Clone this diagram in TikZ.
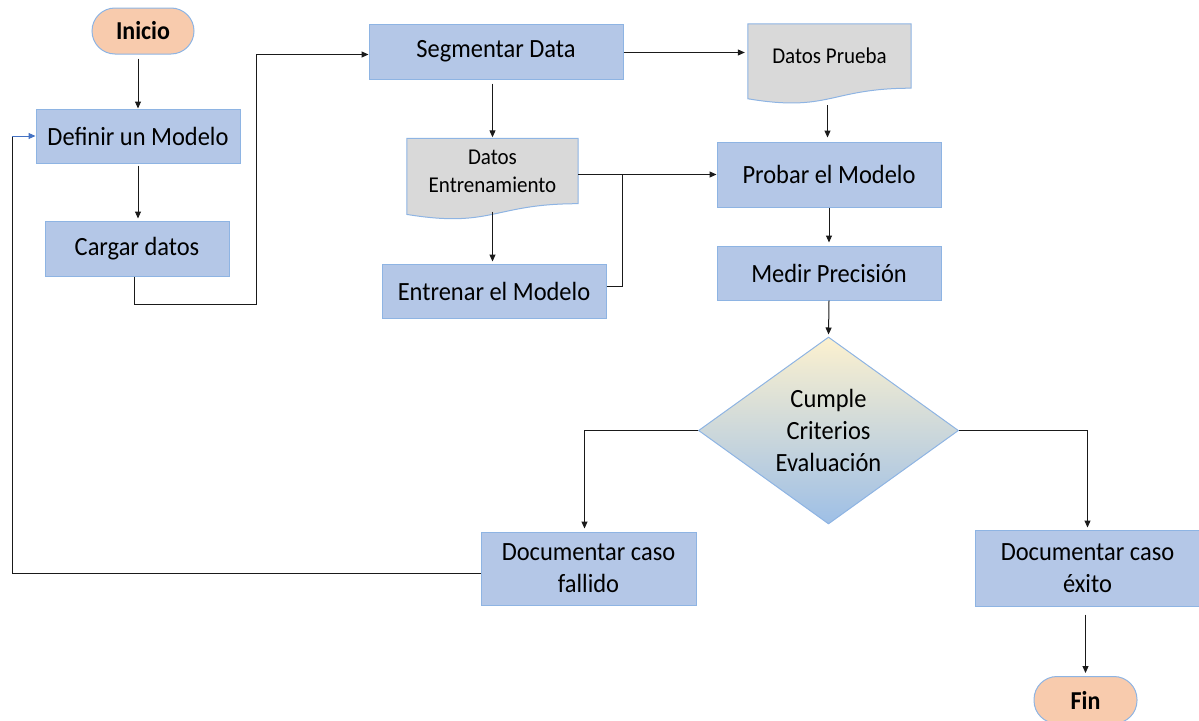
\documentclass[tikz,border=0pt]{standalone}
\usepackage{fontspec}
\setmainfont{Carlito}[FakeStretch=0.93]
\usetikzlibrary{arrows.meta,shapes.geometric,calc,backgrounds}

\definecolor{boxfill}{HTML}{B4C7E7}
\definecolor{boxline}{HTML}{8EB4E3}
\definecolor{docfill}{HTML}{D9D9D9}
\definecolor{termfill}{HTML}{F8CBAD}
\definecolor{decitop}{HTML}{FCF1CF}
\definecolor{decibot}{HTML}{9EBFE6}
\definecolor{wire}{HTML}{1A1A1A}
\definecolor{loopblue}{HTML}{4472C4}

% flowchart document symbol drawn around an (invisible) node: #1 node, #2 width, #3 height
\newcommand{\docpath}[3]{%
  \path[docshape] (#1.north west) -- (#1.north east) -- (#1.south east)
    .. controls ($(#1.south east)+(-0.5*#2,0)$) and ($(#1.south east)+(-0.5*#2,0.38*#3)$)
    .. ($(#1.south west)+(0,0.165*#3)$) -- cycle;}

\begin{document}
\begin{tikzpicture}[x=1pt,y=-1pt,
  process/.style={draw=boxline,line width=1pt,fill=boxfill,inner sep=0pt,align=center,
    font=\fontsize{26.3}{32}\selectfont},
  terminal/.style={draw=boxline,line width=1pt,fill=termfill,inner sep=0pt,rounded corners=23pt,
    font=\fontsize{25.8}{28}\selectfont\bfseries},
  doctext/.style={inner sep=0pt,align=center,font=\fontsize{22.6}{28}\selectfont},
  docshape/.style={draw=boxline,line width=1pt,fill=docfill},
  decision/.style={diamond,draw=boxline,line width=1pt,top color=decitop,bottom color=decibot,
    inner sep=0pt,align=center,font=\fontsize{26.3}{32}\selectfont},
  conn/.style={draw=wire,line width=1pt},
  arr/.style={conn,-{Triangle[length=7pt,width=6pt]}}]

\useasboundingbox (0,0) rectangle (1199,720);

% nodes
\node[terminal,minimum width=102pt,minimum height=46pt] (inicio) at (143,31) {Inicio};
\node[process,minimum width=204pt,minimum height=54pt] (definir) at (138,136) {Definir un Modelo};
\node[process,minimum width=184pt,minimum height=55pt] (cargar) at (137,248.5) {Cargar datos};
\node[process,minimum width=254pt,minimum height=55pt] (segmentar) at (496,51.5) {Segmentar Data};
\node[doctext,minimum width=163pt,minimum height=64pt] (dprueba) at (829.5,56) {Datos Prueba};
\node[doctext,minimum width=171pt,minimum height=65pt] (dentren) at (492.5,171) {Datos\\Entrenamiento};
\node[process,minimum width=224pt,minimum height=54pt] (entrenar) at (494,291) {Entrenar el Modelo};
\node[process,minimum width=224pt,minimum height=65pt] (probar) at (829,174.5) {Probar el Modelo};
\node[process,minimum width=224pt,minimum height=54pt] (medir) at (829,273) {Medir Precisión};
\node[decision,minimum width=260pt,minimum height=187pt,aspect=1.39] (crit) at (828.5,430.5)
  {Cumple\\Criterios\\Evaluación};
\node[process,minimum width=215pt,minimum height=73pt] (fallido) at (588.5,568.5) {Documentar caso\\fallido};
\node[process,minimum width=224pt,minimum height=76pt] (exito) at (1087.5,568) {Documentar caso\\éxito};
\node[terminal,minimum width=103pt,minimum height=47pt] (fin) at (1085.5,700) {Fin};

% document symbols behind their labels
\begin{scope}[on background layer]
  \docpath{dprueba}{163}{64}
  \docpath{dentren}{171}{65}
\end{scope}

% helper points for the routed connectors
\coordinate (bendA) at (256,304);
\coordinate (joinT) at (622,0);
\coordinate (loopx) at (12,0);

% connectors
\draw[arr,shorten <=4pt] (definir.north |- inicio.south) -- (definir.north);
\draw[arr,shorten <=2pt,shorten >=2pt] (definir.south) -- (definir.south |- cargar.north);
\draw[arr] ($(cargar.south)+(-3,0)$) |- (bendA) |- ($(segmentar.west)+(0,3)$);
\draw[arr,shorten >=3pt] ($(segmentar.east)+(0,1)$) -- ($(segmentar.east -| dprueba.west)+(0,1)$);
\draw[arr,shorten <=4pt,shorten >=1pt] (segmentar.south -| dentren.north) -- (dentren.north);
\draw[arr,shorten >=2pt] ($(dentren.south)+(0,8)$) -- (dentren.south |- entrenar.north);
\draw[arr] (dentren.east |- probar.west) -- (probar.west);
\draw[conn] ($(entrenar.east)+(0,-5)$) -| (joinT |- probar.west);
\draw[arr,shorten >=4pt] ($(dprueba.south)+(-2,17)$) -- ($(dprueba.south |- probar.north)+(-2,0)$);
\draw[arr,shorten >=3pt] (probar.south) -- (medir.north);
\draw[arr,shorten >=2pt] (medir.south) -- (crit.north);
\draw[arr,shorten >=3pt] (crit.west) -| ($(fallido.north)+(-4,0)$);
\draw[arr,shorten >=2pt] (crit.east) -| (exito.north);
\draw[arr,shorten <=8pt,shorten >=3pt] (fin.north |- exito.south) -- (fin.north);
\draw[conn] ($(fallido.west)+(0,5)$) -| (loopx |- definir.west);
\draw[draw=loopblue,line width=1pt,-{Triangle[length=7pt,width=6pt]}]
  (loopx |- definir.west) -- (definir.west);

\end{tikzpicture}
\end{document}
